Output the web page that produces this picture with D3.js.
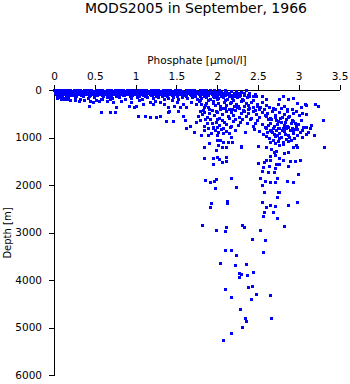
<!DOCTYPE html>
<html>
<head>
<meta charset="utf-8">
<script src="https://cdn.jsdelivr.net/npm/d3@7"></script>
<style>
  html, body { margin: 0; padding: 0; background: #fff; }
  svg { display: block; font-family: "DejaVu Sans", sans-serif; }
</style>
</head>
<body>
<svg id="chart" width="350" height="384"></svg>
<script>
// Phosphate (µmol/l) against depth (m), MODS2005 stations, September 1966.
// Each entry is [phosphate, depth].

const mixedLayer = [
  [0.01,0],[0.03,20],[0.05,10],[0.08,0],[0.10,30],[0.12,10],[0.15,0],[0.17,20],[0.20,10],[0.22,30],
  [0.25,0],[0.27,20],[0.30,10],[0.33,0],[0.35,30],[0.38,10],[0.41,20],[0.43,0],[0.46,10],[0.49,30],
  [0.52,0],[0.54,20],[0.57,10],[0.60,0],[0.63,30],[0.65,20],[0.68,0],[0.71,10],[0.74,30],[0.76,0],
  [0.79,20],[0.82,10],[0.85,0],[0.87,30],[0.90,10],[0.93,20],[0.96,0],[0.99,10],[1.02,30],[1.04,0],
  [1.07,20],[1.10,10],[1.13,0],[1.16,30],[1.19,10],[1.22,20],[1.25,0],[1.28,10],[1.31,30],[1.34,0],
  [1.37,20],[1.40,10],[1.43,0],[1.46,30],[1.49,20],[1.52,0],[1.55,10],[1.58,30],[1.62,0],[1.65,20],
  [1.68,10],[1.72,0],[1.75,30],[1.79,10],[1.83,0],[1.87,20],[1.92,10],[1.97,0],[2.03,20],[2.10,0],
  [0.02,50],[0.05,45],[0.08,55],[0.11,50],[0.14,40],[0.18,60],[0.21,50],[0.24,45],[0.28,55],[0.31,50],
  [0.34,40],[0.37,60],[0.40,50],[0.44,45],[0.47,55],[0.50,50],[0.53,40],[0.56,60],[0.59,50],[0.62,45],
  [0.66,55],[0.69,50],[0.72,40],[0.75,60],[0.78,50],[0.81,45],[0.84,55],[0.88,50],[0.91,40],[0.94,60],
  [0.97,50],[1.00,45],[1.03,55],[1.06,50],[1.09,40],[1.12,60],[1.15,50],[1.18,45],[1.21,55],[1.24,50],
  [1.27,40],[1.30,60],[1.33,50],[1.36,45],[1.39,55],[1.42,50],[1.45,40],[1.48,60],[1.51,50],[1.54,45],
  [1.57,55],[1.60,50],[1.63,40],[1.66,60],[1.70,50],[1.73,45],[1.77,55],[1.81,50],[1.85,40],[1.89,60],
  [1.94,50],[1.99,45],[2.05,55],[2.12,50],[2.18,40],[2.24,30],[2.30,50],[2.36,20],
  [0.02,75],[0.06,70],[0.09,80],[0.13,75],[0.16,70],[0.19,80],[0.23,75],[0.26,70],[0.29,80],[0.32,75],
  [0.36,70],[0.39,80],[0.42,75],[0.46,70],[0.49,80],[0.52,75],[0.55,70],[0.58,80],[0.61,75],[0.64,70],
  [0.67,80],[0.70,75],[0.73,70],[0.76,80],[0.80,75],[0.83,70],[0.86,80],[0.89,75],[0.92,70],[0.95,80],
  [0.98,75],[1.01,70],[1.04,80],[1.08,75],[1.11,70],[1.14,80],[1.17,75],[1.20,70],[1.23,80],[1.26,75],
  [1.29,70],[1.32,80],[1.35,75],[1.38,70],[1.41,80],[1.44,75],[1.47,70],[1.50,80],[1.53,75],[1.56,70],
  [1.59,80],[1.62,75],[1.65,70],[1.68,80],[1.71,75],[1.74,70],[1.77,80],[1.80,75],[1.84,70],[1.88,80],
  [1.91,75],[1.95,70],[2.00,80],[2.04,75],[2.09,70],[2.15,80],[2.21,75],[2.27,70],[2.33,80],[2.40,75],
  [2.47,85],
  [0.03,90],[0.07,100],[0.10,110],[0.13,95],[0.17,105],[0.20,100],[0.24,115],[0.27,90],[0.30,100],[0.34,110],
  [0.38,95],[0.41,100],[0.45,120],[0.49,90],[0.52,105],[0.56,100],[0.60,115],[0.63,95],[0.67,100],[0.71,110],
  [0.74,90],[0.78,105],[0.82,100],[0.85,120],[0.89,95],[0.92,100],[0.96,110],[1.00,90],[1.03,105],[1.07,100],
  [1.10,115],[1.14,95],[1.18,100],[1.21,110],[1.25,90],[1.28,105],[1.32,100],[1.35,120],[1.39,95],[1.42,100],
  [1.46,110],[1.49,90],[1.53,105],[1.56,100],[1.60,115],[1.63,95],[1.67,100],[1.71,110],[1.74,90],[1.78,105],
  [1.82,100],[1.86,120],[1.90,95],[1.94,100],[1.98,110],[2.02,90],[2.07,105],[2.12,100],[2.18,115],[2.24,95],
  [2.29,110],[2.34,90],[2.39,120],
  [0.04,140],[0.09,130],[0.15,135],[0.21,125],[0.28,140],[0.36,130],[0.44,135],[0.53,125],[0.61,140],[0.69,130],
  [0.77,135],[0.86,125],[0.94,140],[1.05,130],[1.12,135],[1.19,125],[1.26,140],[1.33,130],[1.39,135],[1.45,125],
  [1.51,140],[1.57,130],[1.62,135],[1.68,125],[1.73,140],[1.79,130],[1.84,135],[1.90,125],[1.95,140],[2.00,130],
  [2.05,135],[2.10,125],[2.15,140],[2.21,130],[2.27,135],[2.33,125],[2.40,140],[2.48,130],
  [0.06,150],[0.12,175],[0.18,160],[0.26,150],[0.33,200],[0.42,175],[0.50,150],[0.58,200],[0.66,160],[0.72,175],
  [0.80,150],[0.88,200],[0.95,175],[1.02,150],[1.08,200],[1.15,160],[1.22,175],[1.28,150],[1.35,200],[1.40,175],
  [1.47,150],[1.53,200],[1.58,160],[1.64,175],[1.70,150],[1.76,200],[1.81,175],[1.87,150],[1.92,200],[1.97,160],
  [2.02,175],[2.08,150],[2.13,200],[2.19,175],[2.25,150],[2.31,200],[2.37,160],[2.44,130],[2.55,140],[2.61,200],
  [2.77,200],[2.81,140],[2.87,200],[2.93,180]
];

const upperThermocline = [
  [0.11,200],[0.16,200],[0.26,222],[0.48,270],[0.56,237],[0.60,200],[0.65,237],[0.69,200],[0.73,270],[0.95,270],
  [1.10,306],[1.18,270],[1.22,306],[1.30,270],[1.36,306],[1.59,306],[1.69,270],[1.75,306],[0.44,342],[0.77,376],
  [0.93,342],[0.99,376],[1.01,342],[1.40,376],[1.42,448],[1.48,342],[1.55,376],[1.63,376],
  [0.04,180],[0.09,210],[0.14,190],[0.20,230],[0.31,240],[0.37,215],[0.45,250],[0.52,230],[0.83,240],[1.05,230],
  [1.25,250],[1.45,230],[1.52,260],
  [1.78,250],[1.81,300],[1.84,360],[1.87,280],[1.91,400],[1.95,250],[1.98,330],[2.02,290],[2.06,380],[2.09,260],
  [2.12,320],[2.15,410],[2.18,270],[2.21,350],[2.24,300],[2.27,390],[2.30,250],[2.33,340],[2.36,290],[2.39,420],
  [2.42,260],[2.45,360],[2.49,300],[2.52,400],[2.55,270],[2.61,330],[2.69,380],[2.75,300],[2.83,350],[2.92,400],
  [2.98,280],[3.04,360],[3.10,330],[3.20,300],[3.24,355],[3.08,300],
  [1.80,220],[1.86,330],[1.90,230],[1.96,290],[2.00,210],[2.04,350],[2.10,230],[2.16,290],[2.20,220],[2.26,340],
  [2.32,220],[2.38,320],[2.44,230],[2.50,340],[1.83,430],[1.89,360],[1.99,450],[2.04,410],[2.10,380],[2.19,420],
  [2.25,360],[2.32,430],[2.40,380],[2.47,440],[2.53,360],[2.58,420],[2.64,360],[2.72,420],[2.79,390],[2.86,420]
];

const lowerThermocline = [
  [0.58,480],[0.69,480],[0.75,480],[1.03,552],[1.12,566],[1.18,587],[1.26,587],[1.30,552],[1.40,480],[1.53,448],
  [1.59,552],[1.77,566],[1.79,450],[1.82,520],[1.85,470],[1.88,580],[1.91,500],[1.94,440],[1.97,540],[2.00,470],
  [2.03,590],[2.07,510],[2.11,450],[2.14,560],[2.17,480],[2.20,530],[2.23,440],[2.27,580],[2.30,500],[2.33,460],
  [2.36,550],[2.39,490],[2.42,600],[2.45,450],[2.48,520],[2.52,570],[2.56,470],[2.59,540],[2.62,500],[2.65,590],
  [2.68,450],[2.72,530],[2.77,480],[2.80,570],[2.83,510],[2.86,460],[2.89,560],[2.93,500],[2.97,450],[3.01,540],
  [3.05,490],[3.09,511],
  [1.38,672],[1.46,672],[1.61,636],[1.67,777],[1.75,693],[1.80,640],[1.84,760],[1.88,700],[1.92,620],[1.96,780],
  [1.99,680],[2.03,740],[2.07,650],[2.12,720],[2.16,790],[2.20,660],[2.26,740],[2.31,630],[2.37,700],[2.44,770],
  [2.50,650],[2.55,720],[2.59,790],[2.63,620],[2.66,700],[2.70,760],[2.73,650],[2.76,800],[2.79,690],[2.82,740],
  [2.85,630],[2.88,780],[2.91,700],[2.94,660],[2.97,760],[3.00,720],[3.03,640],[3.06,790],[3.09,792],[3.16,757],
  [3.30,638],
  [1.86,620],[1.94,700],[2.01,630],[2.09,690],[2.15,610],[2.23,620],[2.29,690],[2.41,630],[2.47,700],[1.90,820],
  [2.00,790],[2.08,810],[2.18,760],
  [2.60,560],[2.67,620],[2.71,580],[2.75,660],[2.78,600],[2.84,690],[2.87,580],[2.92,640],[2.96,700],[2.63,740],
  [2.69,800],[2.74,730],[2.81,820],[2.86,760],[2.92,800],[2.99,840],
  [1.63,820],[1.72,900],[1.85,860],[1.96,820],[2.05,830],[2.12,870],[2.22,850],[2.35,900],[2.52,880],[2.60,820],
  [2.65,850],[2.70,930],[2.75,810],[2.80,860],[2.85,820],[2.90,850],[2.96,830],[3.05,850]
];

const intermediate = [
  [1.81,968],[1.89,955],[1.93,919],[1.98,849],[2.02,898],[2.00,968],[2.08,919],[2.15,919],[2.18,1010],[2.04,1061],
  [2.00,1061],[1.91,1130],[2.08,1109],[2.14,1109],[2.19,1109],[2.02,1166],[2.06,1200],[2.12,1200],[1.85,1200],[1.99,1272],
  [2.30,1200],[2.00,1412],[2.12,1412],[1.95,1433],[2.03,1462],[1.84,1433],[2.06,1518],[2.12,1496],[1.95,1574],[1.86,1906],
  [1.92,1940],[1.97,1918],[1.99,1885],[2.17,1870],
  [2.57,940],[2.62,898],[2.67,870],[2.73,849],[2.77,919],[2.82,884],[2.87,955],[2.94,884],[2.98,955],[3.02,898],
  [3.09,940],[2.71,989],[2.64,1025],[2.77,1025],[2.85,1040],[2.91,1061],[2.71,1130],[2.65,1109],[2.77,1166],[2.81,1152],
  [2.97,1166],[2.99,1200],[2.94,1200],[2.61,1200],[2.67,1251],[2.73,1293],[2.70,1320],[2.87,1306],[2.83,1342],[2.65,1391],
  [2.71,1377],[2.77,1447],[2.60,1483],[2.66,1483],[2.81,1483],[2.90,1496],[2.96,1496],[3.02,1483],[2.51,1553],[2.58,1532],
  [2.64,1602],[2.73,1574],[2.77,1574],[2.72,1658],[2.56,1714],[2.63,1729],[2.70,1743],[2.57,1623],[2.53,1870],[2.59,1925],
  [2.65,1940],[2.72,1940],[2.74,1855],[2.86,1925],[2.93,1954],[3.00,1778],[2.87,1609],[3.19,968],[3.32,1215],[2.46,828],
  [2.30,1180],[2.51,1180],
  [2.68,900],[2.74,960],[2.79,1000],[2.84,940],[2.89,990],[2.93,920],[2.61,980],[2.69,1060],[2.75,1080],[2.81,1100],
  [2.88,1090],[2.95,1020],[3.05,1000],[3.12,900],[3.14,820]
];

const deepWater = [
  [1.98,2066],[1.93,2389],[1.92,2467],[2.13,2354],[2.13,2396],[2.24,2045],[2.56,2375],[2.58,2585],[2.57,2663],[2.60,2480],
  [2.65,2438],[2.71,2459],[2.69,2573],[2.74,2705],[2.88,2425],[2.99,2375],[2.76,2151],[2.58,2166],[2.75,2151],[2.74,2270],
  [2.56,2011],
  [1.82,2860],[1.99,2964],[2.10,2985],[2.12,2888],[2.31,2846],[2.33,2901],[2.53,2964],[2.43,3154],[2.59,3175],[2.83,2880],
  [2.10,3385],[2.18,3372],[2.24,3484],[2.57,3427],[2.04,3651],[2.23,3693],[2.36,3672],[2.27,3856],[2.30,3892],[2.27,3947],
  [2.37,3913],[2.44,3841],[2.10,4200],[2.39,4158],[2.43,4145],[2.17,4376],[2.42,4405],[2.48,4310],[2.65,4335],[2.29,4630],
  [2.35,4800],[2.36,4880],[2.67,4820],[2.31,5010],[2.18,5120],[2.08,5280]
];

const phosphateTicks = [0, 0.5, 1, 1.5, 2, 2.5, 3, 3.5];
const phosphateTickLabels = ["0", "0.5", "1", "1.5", "2", "2.5", "3", "3.5"];
const depthTicks = [0, 1000, 2000, 3000, 4000, 5000, 6000];
const depthTickLabels = ["0", "1000", "2000", "3000", "4000", "5000", "6000"];

const observations = [].concat(mixedLayer, upperThermocline, lowerThermocline, intermediate, deepWater);

const svg = d3.select("#chart");

const x = d3.scaleLinear().domain([0, 3.5]).range([54, 339.5]);
const y = d3.scaleLinear().domain([0, 6000]).range([90, 375]);

// title
svg.append("text")
  .attr("x", 196).attr("y", 12.5)
  .attr("text-anchor", "middle")
  .attr("font-size", 14)
  .text("MODS2005 in September, 1966");

// x axis along the top
const xAxis = d3.axisTop(x)
  .tickValues(phosphateTicks)
  .tickFormat((d, i) => phosphateTickLabels[i])
  .tickSize(5).tickSizeOuter(0).tickPadding(5);
const gx = svg.append("g").attr("transform", "translate(0,90)").call(xAxis);
gx.selectAll("text").attr("font-size", 10.5).attr("font-family", "DejaVu Sans").attr("fill", "#000");
gx.selectAll("line,path").attr("stroke", "#000").attr("shape-rendering", "crispEdges");

svg.append("text")
  .attr("x", 197).attr("y", 64)
  .attr("text-anchor", "middle")
  .attr("font-size", 10.5)
  .text("Phosphate [µmol/l]");

// depth axis on the left
const yAxis = d3.axisLeft(y)
  .tickValues(depthTicks)
  .tickFormat((d, i) => depthTickLabels[i])
  .tickSize(5).tickSizeOuter(0).tickPadding(7);
const gy = svg.append("g").attr("transform", "translate(54,0)").call(yAxis);
gy.selectAll("text").attr("font-size", 10.5).attr("font-family", "DejaVu Sans").attr("fill", "#000");
gy.selectAll("line,path").attr("stroke", "#000").attr("shape-rendering", "crispEdges");

svg.append("text")
  .attr("transform", "translate(10.5,233) rotate(-90)")
  .attr("text-anchor", "middle")
  .attr("font-size", 10)
  .text("Depth [m]");

// observations as small squares
const size = 3;
svg.append("g")
  .attr("fill", "#0000ff")
  .attr("shape-rendering", "crispEdges")
  .selectAll("rect")
  .data(observations)
  .join("rect")
  .attr("x", d => Math.round(x(d[0]) - size / 2))
  .attr("y", d => Math.round(y(d[1]) - size / 2))
  .attr("width", size)
  .attr("height", size);
</script>
</body>
</html>
